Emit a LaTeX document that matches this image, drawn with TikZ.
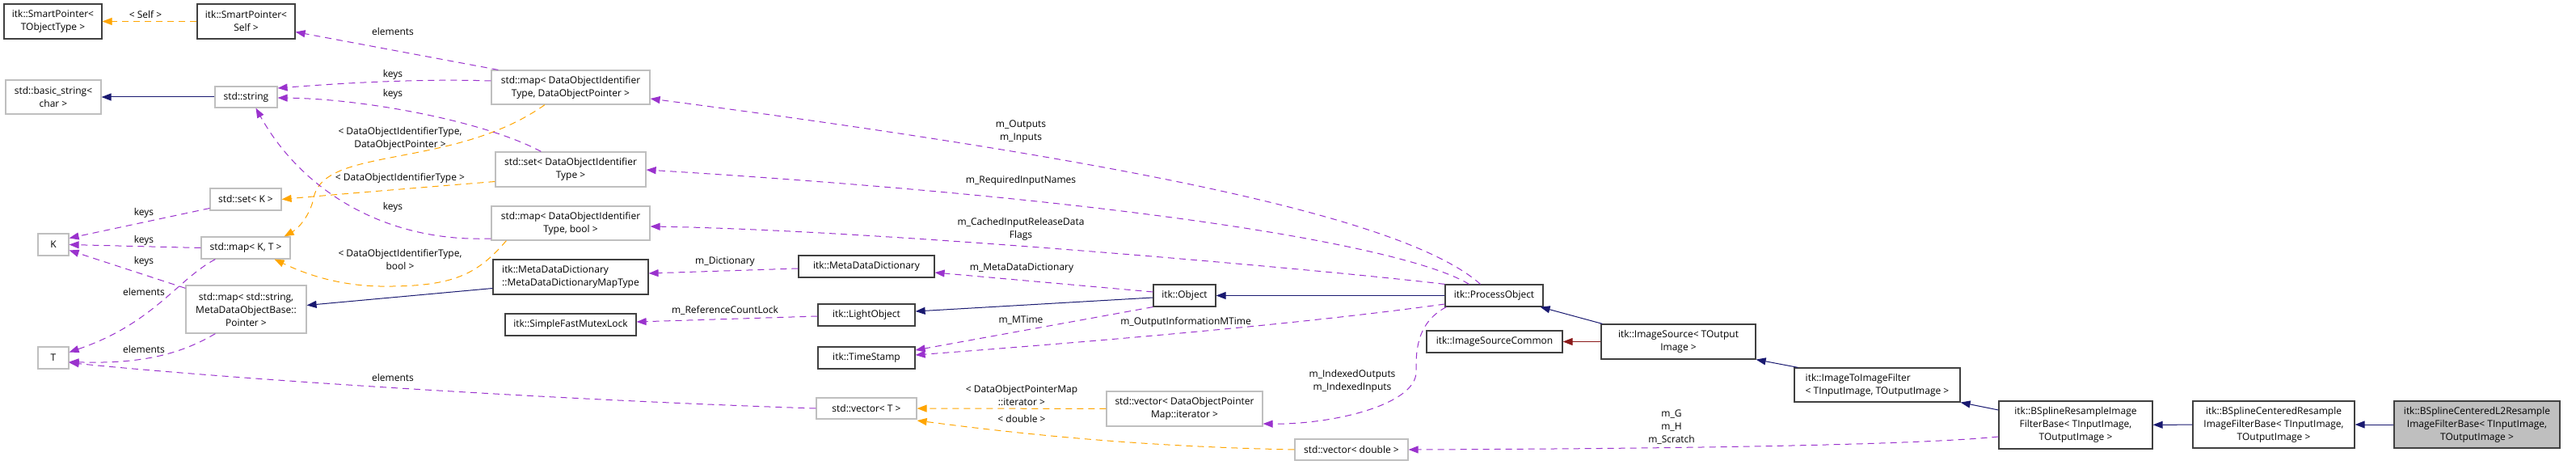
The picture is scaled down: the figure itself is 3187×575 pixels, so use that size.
\documentclass[tikz,border=0pt]{standalone}
\usepackage{fontspec}
\setmainfont{Open Sans}
\usetikzlibrary{arrows.meta}
\definecolor{useclr}{HTML}{9A32CD}
\definecolor{tmplclr}{HTML}{FFA500}
\definecolor{inhclr}{HTML}{191970}
\definecolor{privclr}{HTML}{8B1A1A}

\begin{document}
\begin{tikzpicture}[x=1pt,y=-1pt,
        font=\fontsize{12}{16}\selectfont,
        box/.style={draw, line width=1.2pt, fill=white, align=center, inner sep=2pt},
        cls/.style={box, draw=black!75},
        ext/.style={box, draw=black!25},
        main/.style={box, draw=black!75, fill=black!25},
        lbl/.style={align=center, inner sep=0pt},
        uses/.style={draw=useclr, line width=1pt, dash pattern=on 8pt off 6pt, -{Triangle[length=12pt,width=9pt]}},
        tmpl/.style={uses, draw=tmplclr},
        inh/.style={draw=inhclr, line width=1pt, -{Triangle[length=12pt,width=9pt]}},
        priv/.style={inh, draw=privclr}]
        \useasboundingbox (0,0) rectangle (3187,575);
        % classes
        \node[cls, minimum width=121pt, minimum height=43pt] (spT) at (65.5,26.5) {itk::SmartPointer<\\TObjectType >};
        \node[cls, minimum width=121pt, minimum height=43pt] (spS) at (304.5,26.5) {itk::SmartPointer<\\Self >};
        \node[ext, minimum width=118pt, minimum height=42pt] (bstr) at (66,120) {std::basic\_string<\\char >};
        \node[ext, minimum width=77pt, minimum height=26pt] (str) at (304.5,120) {std::string};
        \node[ext, minimum width=88pt, minimum height=27pt] (setK) at (304,246.5) {std::set< K >};
        \node[ext, minimum width=38pt, minimum height=27pt] (K) at (66,302.5) {K};
        \node[ext, minimum width=110pt, minimum height=27pt] (mapKT) at (304,306.5) {std::map< K, T >};
        \node[ext, minimum width=149pt, minimum height=59pt] (mapSM) at (304.5,382.5) {std::map< std::string,\\ MetaDataObjectBase::\\Pointer >};
        \node[ext, minimum width=38pt, minimum height=27pt] (T) at (66,442.5) {T};
        \node[ext, minimum width=196pt, minimum height=42pt] (mapDP) at (706,108) {std::map< DataObjectIdentifier\\Type, DataObjectPointer >};
        \node[ext, minimum width=186pt, minimum height=43pt] (setDI) at (706,209.5) {std::set< DataObjectIdentifier\\Type >};
        \node[ext, minimum width=196pt, minimum height=42pt] (mapDB) at (706,276) {std::map< DataObjectIdentifier\\Type, bool >};
        \node[cls, align=left, minimum width=192pt, minimum height=43pt] (mddmt) at (706,342.5) {itk::MetaDataDictionary\\::MetaDataDictionaryMapType};
        \node[cls, minimum width=162pt, minimum height=27pt] (mutex) at (706,401.5) {itk::SimpleFastMutexLock};
        \node[cls, minimum width=168pt, minimum height=27pt] (mdd) at (1072,329.5) {itk::MetaDataDictionary};
        \node[cls, minimum width=120pt, minimum height=27pt] (lobj) at (1072,389.5) {itk::LightObject};
        \node[cls, minimum width=120pt, minimum height=27pt] (tstamp) at (1072,442.5) {itk::TimeStamp};
        \node[ext, minimum width=124pt, minimum height=26pt] (vecT) at (1072,505) {std::vector< T >};
        \node[cls, minimum width=77pt, minimum height=27pt] (obj) at (1465.5,365.5) {itk::Object};
        \node[ext, minimum width=193pt, minimum height=43pt] (vecIt) at (1465.5,505.5) {std::vector< DataObjectPointer\\Map::iterator >};
        \node[cls, minimum width=121pt, minimum height=27pt] (po) at (1848.5,365.5) {itk::ProcessObject};
        \node[cls, minimum width=168pt, minimum height=27pt] (isc) at (1849,422.5) {itk::ImageSourceCommon};
        \node[cls, minimum width=191pt, minimum height=43pt] (isrc) at (2076.5,422.5) {itk::ImageSource< TOutput\\Image >};
        \node[ext, minimum width=140pt, minimum height=26pt] (vecD) at (1672,556) {std::vector< double >};
        \node[cls, align=left, minimum width=205pt, minimum height=42pt] (i2i) at (2322.5,476) {itk::ImageToImageFilter\\< TInputImage, TOutputImage >};
        \node[cls, minimum width=190pt, minimum height=59pt] (bsr) at (2568,525.5) {itk::BSplineResampleImage\\FilterBase< TInputImage,\\ TOutputImage >};
        \node[cls, minimum width=200pt, minimum height=58pt] (bsc) at (2813,525) {itk::BSplineCenteredResample\\ImageFilterBase< TInputImage,\\ TOutputImage >};
        \node[main, minimum width=205pt, minimum height=58pt] (l2) at (3064.5,525) {itk::BSplineCenteredL2Resample\\ImageFilterBase< TInputImage,\\ TOutputImage >};
        % inheritance
        \draw[inh] (str) -- (bstr);
        \draw[inh] ([yshift=-14pt]mddmt.west) -- ([yshift=5pt]mapSM.east);
        \draw[inh] ([yshift=-2.5pt]obj.west) -- ([yshift=4.5pt]lobj.east);
        \draw[inh] (po) -- (obj);
        \draw[inh] ([xshift=2pt]isrc.north west) -- ([xshift=-4pt]po.south east);
        \draw[priv] (isrc) -- (isc);
        \draw[inh] ([xshift=5pt]i2i.north west) -- (isrc.south east);
        \draw[inh] ([yshift=18.5pt]bsr.west) -- (i2i.south east);
        \draw[inh] (bsc) -- (bsr);
        \draw[inh] (l2) -- (bsc);
        % template instances
        \draw[tmpl] (spS) -- (spT);
        \draw[tmpl] ([xshift=-32pt]mapDP.south) .. controls (560,210) and (400,180) .. (388,245) .. controls (384,265) and (370,282) .. ([xshift=-8pt]mapKT.north east);
        \draw[tmpl] ([yshift=-15pt]setDI.west) .. controls (520,232) and (420,240) .. (setK.east);
        \draw[tmpl] ([xshift=19pt]mapDB.south west) .. controls (590,340) and (560,355) .. (470,354) .. controls (420,353) and (380,340) .. ([xshift=-20pt]mapKT.south east);
        \draw[tmpl] (vecIt) -- (vecT);
        \draw[tmpl] (vecD.west) .. controls (1400,552) and (1250,535) .. ([yshift=-15pt]vecT.east);
        % members
        \draw[uses] ([xshift=9pt]mapDP.north west) -- ([yshift=-13pt]spS.east);
        \draw[uses] ([yshift=8pt]mapDP.west) .. controls (520,97) and (420,103) .. ([yshift=11pt]str.east);
        \draw[uses] ([xshift=57pt]setDI.north west) .. controls (600,150) and (450,122) .. ([yshift=-1pt]str.east);
        \draw[uses] ([yshift=-19pt]mapDB.west) .. controls (470,300) and (370,230) .. ([xshift=12pt]str.south);
        \draw[uses] ([yshift=-11pt]setK.west) -- ([yshift=8pt]K.east);
        \draw[uses] (mapKT.west) -- (K.east);
        \draw[uses] ([yshift=-4pt]mapSM.north west) -- ([yshift=-7pt]K.east);
        \draw[uses] ([xshift=18pt]mapKT.south west) .. controls (220,345) and (190,400) .. ([yshift=7pt]T.east);
        \draw[uses] ([xshift=37pt]mapSM.south west) .. controls (220,440) and (170,450) .. ([yshift=-5pt]T.east);
        \draw[uses] (vecT.west) .. controls (700,495) and (300,470) .. ([yshift=-6pt]T.east);
        \draw[uses] ([yshift=-2.5pt]mdd.west) -- ([yshift=4.5pt]mddmt.east);
        \draw[uses] ([yshift=-1.5pt]lobj.west) -- ([yshift=3.5pt]mutex.east);
        \draw[uses] ([yshift=4.5pt]obj.west) -- ([yshift=-7.5pt]mdd.east);
        \draw[uses] (obj.south west) -- ([yshift=9.5pt]tstamp.east);
        \draw[uses] ([yshift=-10.5pt]po.west) .. controls (1650,395) and (1450,415) .. ([yshift=3.5pt]tstamp.east);
        \draw[uses] ([xshift=-17pt]po.north) .. controls (1740,270) and (1400,200) .. ([yshift=-14pt]mapDP.east);
        \draw[uses] ([xshift=-31pt]po.north) .. controls (1750,310) and (1450,250) .. ([yshift=-0.5pt]setDI.east);
        \draw[uses] (po.north west) .. controls (1650,335) and (1100,285) .. ([yshift=-4pt]mapDB.east);
        \draw[uses] ([xshift=2pt]po.south west) .. controls (1750,400) and (1752,440) .. (1752,460) .. controls (1752,500) and (1650,525) .. ([yshift=-18.5pt]vecIt.east);
        \draw[uses] ([yshift=-14.5pt]bsr.west) .. controls (2350,552) and (2000,555) .. (vecD.east);
        % labels
        \node[lbl] (lself) at (180,18) {< Self >};
        \node[lbl] (lelem1) at (486,39) {elements};
        \node[lbl] (lkeys1) at (486,92) {keys};
        \node[lbl] (lkeys2) at (486,116) {keys};
        \node[lbl] (ldop) at (495,171) {< DataObjectIdentifierType,\\DataObjectPointer >};
        \node[lbl] (ldoi) at (495,220) {< DataObjectIdentifierType >};
        \node[lbl] (lkeys3) at (486,256) {keys};
        \node[lbl] (ldob) at (495,321) {< DataObjectIdentifierType,\\bool >};
        \node[lbl] (lkeys4) at (178,263) {keys};
        \node[lbl] (lkeys5) at (178,297) {keys};
        \node[lbl] (lkeys6) at (178,323) {keys};
        \node[lbl] (lelem2) at (178,361) {elements};
        \node[lbl] (lelem3) at (178,432) {elements};
        \node[lbl] (lelem4) at (486,467) {elements};
        \node[lbl] (lout) at (1263,163) {m\_Outputs\\m\_Inputs};
        \node[lbl] (lreq) at (1263,223) {m\_RequiredInputNames};
        \node[lbl] (lcache) at (1263,283) {m\_CachedInputReleaseData\\Flags};
        \node[lbl] (ldict) at (897,324) {m\_Dictionary};
        \node[lbl] (lrefc) at (897,384) {m\_ReferenceCountLock};
        \node[lbl] (lmdd) at (1264,332) {m\_MetaDataDictionary};
        \node[lbl] (lmtime) at (1263,396) {m\_MTime};
        \node[lbl] (loimt) at (1467,398) {m\_OutputInformationMTime};
        \node[lbl] (liter) at (1264,489) {< DataObjectPointerMap\\::iterator >};
        \node[lbl] (ldbl) at (1264,518) {< double >};
        \node[lbl] (lidx) at (1673,471) {m\_IndexedOutputs\\m\_IndexedInputs};
        \node[lbl] (lscr) at (2068,528) {m\_G\\m\_H\\m\_Scratch};
\end{tikzpicture}
\end{document}
